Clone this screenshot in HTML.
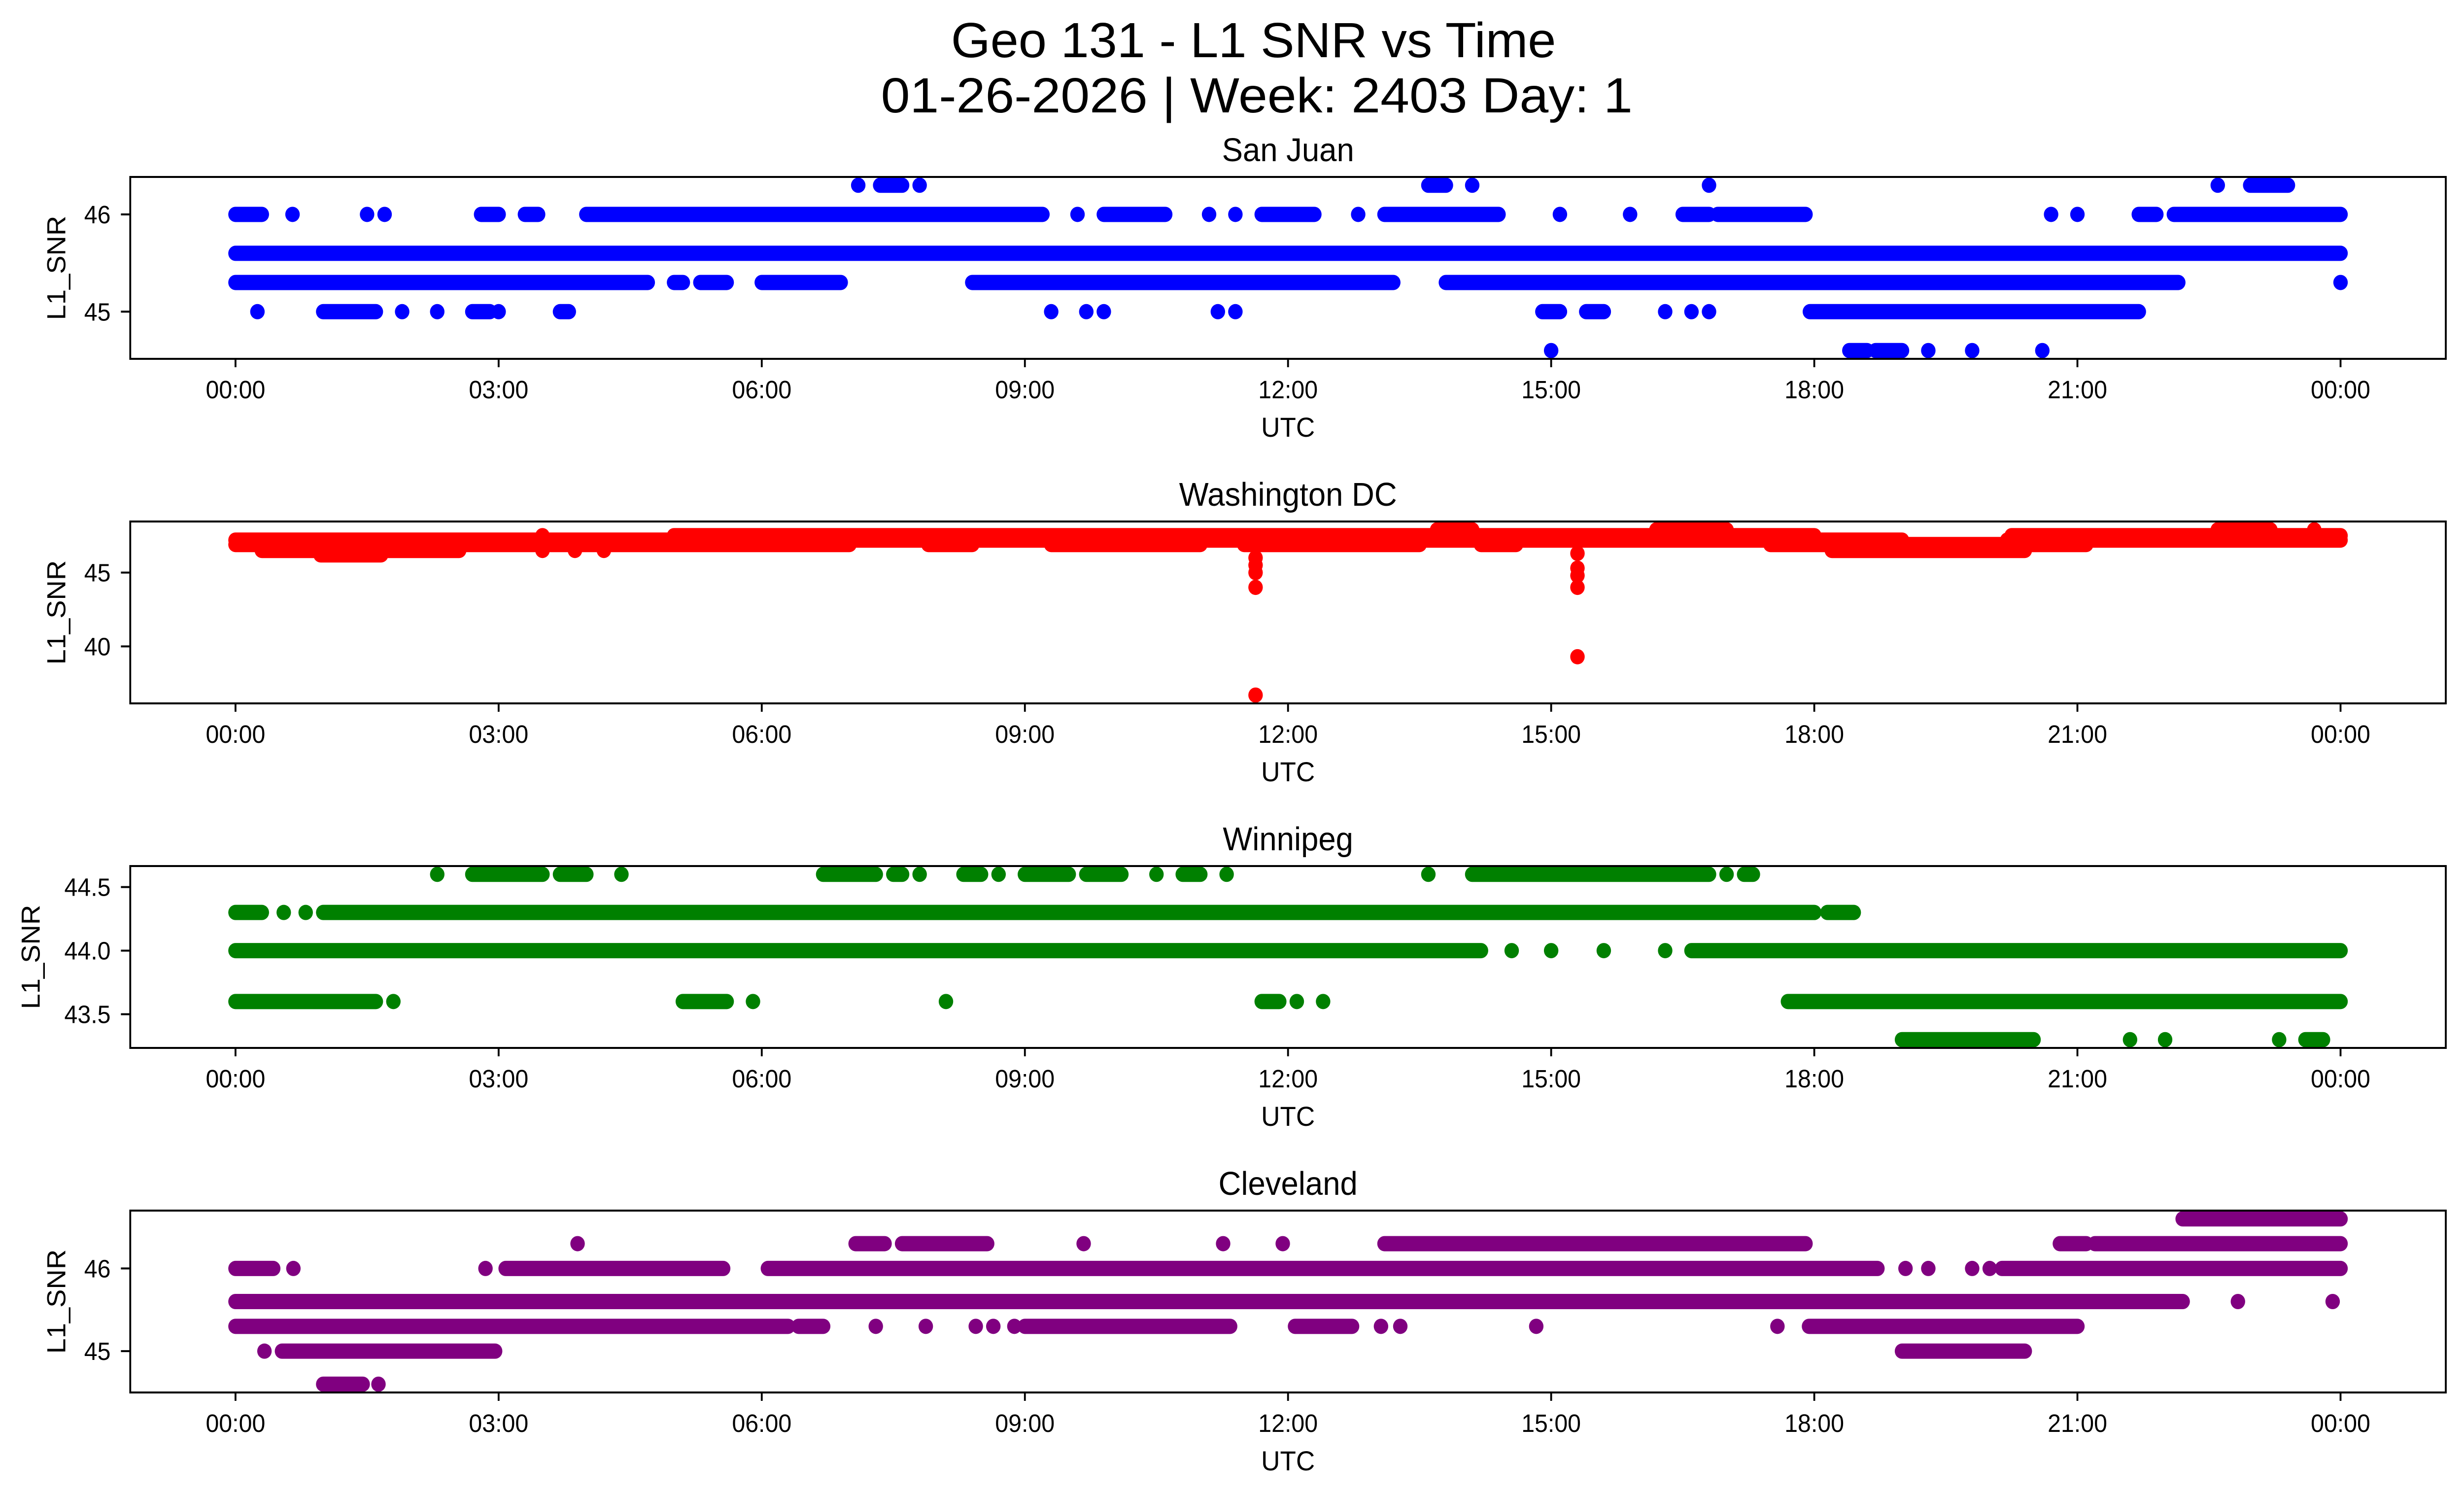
<!DOCTYPE html>
<html><head><meta charset="utf-8"><style>
html,body{margin:0;padding:0;background:#fff;overflow:hidden;width:100vw;height:100vh;}
svg{display:block;width:100vw;height:100vh;font-family:"Liberation Sans","DejaVu Sans",sans-serif;}
</style></head><body>
<svg id="fig" xmlns="http://www.w3.org/2000/svg" viewBox="0 0 5278 3033" preserveAspectRatio="none">
<rect x="0" y="0" width="5278" height="3033" fill="#fff"/>
<text x="2685" y="116" font-size="100" text-anchor="middle" textLength="1296" lengthAdjust="spacingAndGlyphs">Geo 131 - L1 SNR vs Time</text>
<text x="2692" y="228" font-size="100" text-anchor="middle" textLength="1610" lengthAdjust="spacingAndGlyphs">01-26-2026 | Week: 2403 Day: 1</text>
</svg>
<script>
// x-axis data
const xTickHours = [0,3,6,9,12,15,18,21,24];
const xTickLabels = ["00:00","03:00","06:00","09:00","12:00","15:00","18:00","21:00","00:00"];
const panelNames = ["San Juan","Washington DC","Winnipeg","Cleveland"];
const panelColors = ["#0000ff","#ff0000","#008000","#800080"];
const panelYTicks = [[45,46],[40,45],[43.5,44.0,44.5],[45,46]];
const panelYTickLabels = [["45","46"],["40","45"],["43.5","44.0","44.5"],["45","46"]];

// San Juan: [value, [[startHour,endHour],...]]
const sanJuanRows = [
 [46.3,[[7.1,7.1],[7.35,7.6],[7.8,7.8],[13.6,13.8],[14.1,14.1],[16.8,16.8],[22.6,22.6],[22.97,23.4]]],
 [46.0,[[0,0.3],[0.65,0.65],[1.5,1.5],[1.7,1.7],[2.8,3.0],[3.3,3.45],[4.0,9.2],[9.6,9.6],[9.9,10.6],[11.1,11.1],[11.4,11.4],[11.7,12.3],[12.8,12.8],[13.1,14.4],[15.1,15.1],[15.9,15.9],[16.5,16.8],[16.9,17.9],[20.7,20.7],[21.0,21.0],[21.7,21.9],[22.1,24]]],
 [45.6,[[0,24]]],
 [45.3,[[0,4.7],[5.0,5.1],[5.3,5.6],[6.0,6.9],[8.4,13.2],[13.8,22.15],[24,24]]],
 [45.0,[[0.25,0.25],[1.0,1.6],[1.9,1.9],[2.3,2.3],[2.7,2.9],[3.0,3.0],[3.7,3.8],[9.3,9.3],[9.7,9.7],[9.9,9.9],[11.2,11.2],[11.4,11.4],[14.9,15.1],[15.4,15.6],[16.3,16.3],[16.6,16.6],[16.8,16.8],[17.95,21.7]]],
 [44.6,[[15.0,15.0],[18.4,18.6],[18.7,19.0],[19.3,19.3],[19.8,19.8],[20.6,20.6]]]
];
const washingtonRows = [
 [47.9,[[13.7,14.1],[16.2,17.0],[22.6,23.2],[23.7,23.7]]],
 [47.5,[[3.5,3.5],[5.0,18.0],[20.25,24]]],
 [47.2,[[0,19.0],[20.2,24]]],
 [46.9,[[0,7.0],[7.9,8.4],[9.3,11.0],[11.5,13.5],[14.2,14.6],[17.5,21.1]]],
 [46.5,[[0.3,2.55],[3.5,3.5],[3.87,3.87],[4.2,4.2],[18.2,20.4]]],
 [46.2,[[0.97,1.66]]],
 [46.3,[[15.3,15.3]]],
 [46.0,[[11.63,11.63]]],
 [45.5,[[11.63,11.63]]],
 [45.3,[[15.3,15.3]]],
 [45.0,[[11.63,11.63]]],
 [44.8,[[15.3,15.3]]],
 [44.0,[[11.63,11.63],[15.3,15.3]]],
 [39.3,[[15.3,15.3]]],
 [36.7,[[11.63,11.63]]]
];
const winnipegRows = [
 [44.6,[[2.3,2.3],[2.7,3.5],[3.7,4.0],[4.4,4.4],[6.7,7.3],[7.5,7.6],[7.8,7.8],[8.3,8.5],[8.7,8.7],[9.0,9.5],[9.7,10.1],[10.5,10.5],[10.8,11.0],[11.3,11.3],[13.6,13.6],[14.1,16.8],[17.0,17.0],[17.2,17.3]]],
 [44.3,[[0,0.3],[0.55,0.55],[0.8,0.8],[1.0,18.0],[18.15,18.45]]],
 [44.0,[[0,14.2],[14.55,14.55],[15.0,15.0],[15.6,15.6],[16.3,16.3],[16.6,24]]],
 [43.6,[[0,1.6],[1.8,1.8],[5.1,5.6],[5.9,5.9],[8.1,8.1],[11.7,11.9],[12.1,12.1],[12.4,12.4],[17.7,24]]],
 [43.3,[[19.0,20.5],[21.6,21.6],[22.0,22.0],[23.3,23.3],[23.6,23.8]]]
];
const clevelandRows = [
 [46.6,[[22.2,24]]],
 [46.3,[[3.9,3.9],[7.07,7.4],[7.6,8.57],[9.67,9.67],[11.26,11.26],[11.94,11.94],[13.1,17.9],[20.8,21.1],[21.2,24]]],
 [46.0,[[0,0.43],[0.66,0.66],[2.85,2.85],[3.08,5.56],[6.07,18.72],[19.04,19.04],[19.3,19.3],[19.8,19.8],[20.0,20.0],[20.14,24]]],
 [45.6,[[0,22.2],[22.83,22.83],[23.91,23.91]]],
 [45.3,[[0,6.3],[6.42,6.7],[7.3,7.3],[7.87,7.87],[8.44,8.44],[8.64,8.64],[8.88,8.88],[9.0,11.34],[12.08,12.73],[13.06,13.06],[13.28,13.28],[14.83,14.83],[17.58,17.58],[17.94,21.0]]],
 [45.0,[[0.33,0.33],[0.53,2.96],[19.0,20.4]]],
 [44.6,[[1.0,1.45],[1.63,1.63]]]
];
const panelRows = [sanJuanRows, washingtonRows, winnipegRows, clevelandRows];
const yLabelX = [120,120,65,120];

const NS = "http://www.w3.org/2000/svg";
const svg = document.getElementById("fig");
const AX_L = 279, AX_R = 5239, AX_H = 369;
const AX_TOPS = [359,1058,1757,2456];
const R = 15.5;
function mk(tag, attrs){ const e=document.createElementNS(NS,tag); for(const k in attrs) e.setAttribute(k,attrs[k]); return e; }
function xScale(h){ const lo=-1.2, hi=25.2; return AX_L + (h-lo)/(hi-lo)*(AX_R-AX_L); }

panelRows.forEach((rows, p) => {
  const top = AX_TOPS[p], bot = top + AX_H;
  let vmin=Infinity, vmax=-Infinity;
  rows.forEach(r => { vmin=Math.min(vmin,r[0]); vmax=Math.max(vmax,r[0]); });
  const pad = (vmax-vmin)*0.05, lo=vmin-pad, hi=vmax+pad;
  const yScale = v => bot - (v-lo)/(hi-lo)*AX_H;
  const g = mk("g",{});
  
  
  svg.appendChild(g);
  const clipId = "clip"+p;
  const cp = mk("clipPath",{id:clipId}); cp.appendChild(mk("rect",{x:AX_L,y:top,width:AX_R-AX_L,height:AX_H})); g.appendChild(cp);
  const marks = mk("g",{"clip-path":"url(#"+clipId+")"});
  
  
  g.appendChild(marks);
  rows.forEach(r => {
    const y = yScale(r[0]);
    r[1].forEach(seg => {
      let el;
      if (seg[0] === seg[1]) {
        el = mk("circle",{cx:xScale(seg[0]),cy:y,r:R,fill:panelColors[p]});
      } else {
        el = mk("line",{x1:xScale(seg[0]),x2:xScale(seg[1]),y1:y,y2:y,stroke:panelColors[p],"stroke-width":2*R,"stroke-linecap":"round"});
      }
      
      
      marks.appendChild(el);
    });
  });
  const frame = mk("rect",{x:AX_L,y:top,width:AX_R-AX_L,height:AX_H,fill:"none",stroke:"#000","stroke-width":4});
  
  
  g.appendChild(frame);
  xTickHours.forEach((h,i) => {
    const x = xScale(h);
    const t = mk("line",{x1:x,x2:x,y1:bot,y2:bot+17,stroke:"#000","stroke-width":4});
    
    
    g.appendChild(t);
    const tl = mk("text",{x:x,y:bot+80,"font-size":51,"text-anchor":"middle"});
    tl.textContent = xTickLabels[i];
    
    
    g.appendChild(tl);
  });
  panelYTicks[p].forEach((v,i) => {
    const y = yScale(v);
    const t = mk("line",{x1:AX_L-20,x2:AX_L,y1:y,y2:y,stroke:"#000","stroke-width":4});
    
    
    g.appendChild(t);
    const tl = mk("text",{x:237,y:y+18,"font-size":51,"text-anchor":"end"});
    tl.textContent = panelYTickLabels[p][i];
    
    
    g.appendChild(tl);
  });
  const title = mk("text",{x:(AX_L+AX_R)/2,y:top-32,"font-size":67,"text-anchor":"middle"});
  title.textContent = panelNames[p];
  
  
  g.appendChild(title);
  const xl = mk("text",{x:(AX_L+AX_R)/2,y:bot+158,"font-size":56,"text-anchor":"middle"});
  xl.textContent = "UTC";
  
  
  g.appendChild(xl);
  const cy = top + AX_H/2;
  const yl = mk("text",{x:yLabelX[p]+20,y:cy,"font-size":56,"text-anchor":"middle",transform:"rotate(-90 "+(yLabelX[p]+20)+" "+cy+")"});
  yl.textContent = "L1_SNR";
  
  
  g.appendChild(yl);
});
</script>
</body></html>
